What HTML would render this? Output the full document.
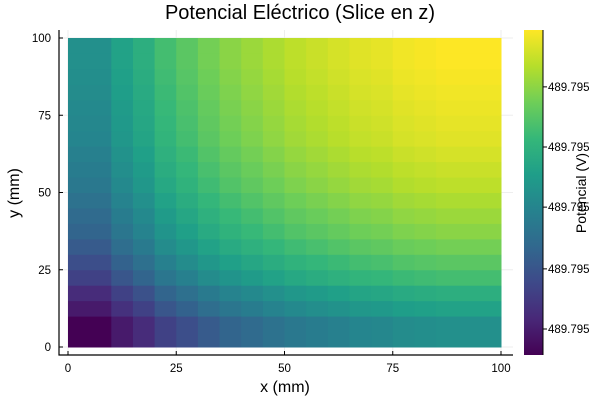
<!DOCTYPE html>
<html><head><meta charset="utf-8"><style>
body{margin:0;background:#fff}
svg text{font-family:"Liberation Sans","DejaVu Sans",sans-serif;fill:#000}
</style></head><body>
<svg id="chart" width="600" height="400" xmlns="http://www.w3.org/2000/svg">
<defs><linearGradient id="vg" x1="0" y1="1" x2="0" y2="0">
<stop offset="0" stop-color="#440154"/><stop offset="0.111" stop-color="#482878"/><stop offset="0.222" stop-color="#3e4989"/><stop offset="0.333" stop-color="#31688e"/><stop offset="0.444" stop-color="#26828e"/><stop offset="0.555" stop-color="#1f9e89"/><stop offset="0.666" stop-color="#35b779"/><stop offset="0.777" stop-color="#6ece58"/><stop offset="0.888" stop-color="#b5de2b"/><stop offset="1" stop-color="#fde725"/>
</linearGradient></defs>
<g id="grid"></g>
<g id="cells"></g>
<g id="axes"></g>
<text x="300" y="19" text-anchor="middle" font-size="20">Potencial Eléctrico (Slice en z)</text>
<text x="285" y="392" text-anchor="middle" font-size="16">x (mm)</text>
<text transform="translate(19,193) rotate(-90)" text-anchor="middle" font-size="16">y (mm)</text>
<rect x="524" y="30" width="19" height="325" fill="url(#vg)"/>
<line x1="543" y1="30" x2="543" y2="355" stroke="#000" stroke-width="1"/>
<g id="cbticks"></g>
<text transform="translate(586,193) rotate(-90)" text-anchor="middle" font-size="14">Potencial (V)</text>
</svg>
<script>
const xEdges=[0,10,15,20,25,30,35,40,45,50,55,60,65,70,75,80,85,100];
const yEdges=[0,10,15,20,25,30,35,40,45,50,55,60,65,70,75,80,85,90,95,100];
const colProfile=[0,0.08,0.14,0.22,0.27,0.32,0.36,0.39,0.42,0.45,0.47,0.49,0.51,0.52,0.54,0.55,0.56];
const rowProfile=[0,0.08,0.14,0.22,0.27,0.32,0.36,0.39,0.42,0.45,0.47,0.49,0.51,0.52,0.53,0.54,0.55,0.56,0.56];
const xTicks=[0,25,50,75,100];
const yTicks=[0,25,50,75,100];
const cbTickLabels=["489.795","489.795","489.795","489.795","489.795"];
const cbTickFrac=[0.08,0.265,0.455,0.64,0.825];
const NS="http://www.w3.org/2000/svg";
const sx=v=>68+(v/100)*433, sy=v=>347-(v/100)*309;
const stops=[[68,1,84],[72,40,120],[62,73,137],[49,104,142],[38,130,142],[31,158,137],[53,183,121],[110,206,88],[181,222,43],[253,231,37]];
function vir(t){t=Math.max(0,Math.min(1,t));const p=t*(stops.length-1),i=Math.min(Math.floor(p),stops.length-2),f=p-i;
return "rgb("+stops[i].map((c,k)=>Math.round(c+(stops[i+1][k]-c)*f)).join(",")+")";}
function mk(tag,attrs,parent){const e=document.createElementNS(NS,tag);for(const k in attrs)e.setAttribute(k,attrs[k]);parent.appendChild(e);return e;}
const maxV=colProfile[colProfile.length-1]+rowProfile[rowProfile.length-1];
const cells=document.getElementById('cells');
for(let j=0;j<rowProfile.length;j++)for(let i=0;i<colProfile.length;i++){
const r=mk('rect',{x:sx(xEdges[i]),y:sy(yEdges[j+1]),width:sx(xEdges[i+1])-sx(xEdges[i])+0.5,height:sy(yEdges[j])-sy(yEdges[j+1])+0.5,fill:vir((colProfile[i]+rowProfile[j])/maxV)},cells);

}
const grid=document.getElementById('grid'),axes=document.getElementById('axes');
xTicks.forEach(v=>{mk('line',{x1:sx(v),y1:30,x2:sx(v),y2:355,stroke:'#eee'},grid);
mk('line',{x1:sx(v),y1:355,x2:sx(v),y2:351,stroke:'#000'},axes);
const t=mk('text',{x:sx(v),y:372,'text-anchor':'middle','font-size':11.5},axes);t.textContent=v;

});
yTicks.forEach(v=>{mk('line',{x1:59,y1:sy(v),x2:513,y2:sy(v),stroke:'#eee'},grid);
mk('line',{x1:59,y1:sy(v),x2:63,y2:sy(v),stroke:'#000'},axes);
const t=mk('text',{x:51,y:sy(v)+4,'text-anchor':'end','font-size':11.5},axes);t.textContent=v;

});
mk('line',{x1:59,y1:30,x2:59,y2:355.5,stroke:'#000','stroke-width':1.2},axes);
mk('line',{x1:58.5,y1:355,x2:513,y2:355,stroke:'#000','stroke-width':1.2},axes);
const cb=document.getElementById('cbticks');
cbTickFrac.forEach((f,k)=>{const y=355-f*325;
mk('line',{x1:543,y1:y,x2:547,y2:y,stroke:'#000'},cb);
const t=mk('text',{x:548,y:y+4,'font-size':11.5},cb);t.textContent=cbTickLabels[k];

});
</script>
</body></html>
